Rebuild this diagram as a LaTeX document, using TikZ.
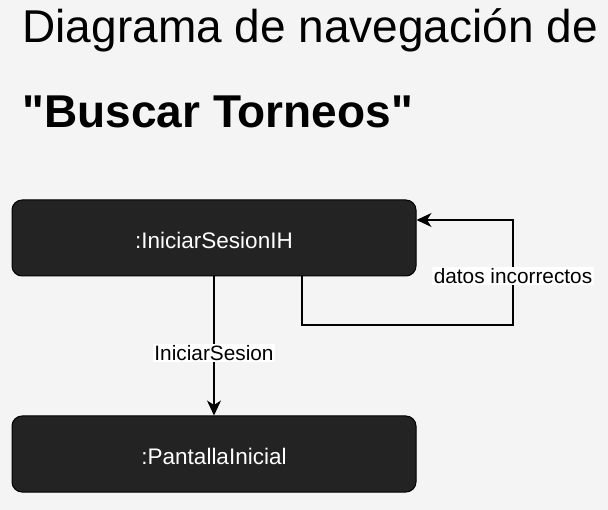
\documentclass[tikz,border=0pt]{standalone}
\usepackage{fontspec}
\setmainfont{Liberation Sans}
\newfontfamily\plainarial{Liberation Sans}
\usetikzlibrary{arrows.meta}
\definecolor{bgc}{HTML}{F4F4F4}
\definecolor{boxc}{HTML}{232323}
\newcommand{\lowered}[1]{\raisebox{-2pt}[\height][0pt]{#1}}
\begin{document}
\begin{tikzpicture}[x=1pt,y=-1pt,
  screen/.style={draw=black, line width=1pt, fill=boxc, rounded corners=10pt,
    minimum width=404pt, minimum height=76pt, inner sep=0pt,
    text=white, font=\fontsize{22.5}{27}\selectfont},
  conn/.style={draw=black, line width=1.3pt, -{Stealth[length=15pt,width=14pt,inset=4.5pt]}},
  lbl/.style={fill=white, inner sep=1.5pt, font=\fontsize{20.8}{24}\selectfont, text=black}
]
\fill[bgc] (0,0) rectangle (608,510);
\useasboundingbox (0,0) rectangle (608,510);
\node[anchor=base west, font=\fontsize{46}{55}\selectfont] (t1) at (19,43) {Diagrama de navegación de};
\node[anchor=base west, font=\plainarial\fontsize{46}{55}\selectfont\bfseries] (t2) at (19,128) {"Buscar Torneos"};
\node[screen] (ih) at (214,238) {\lowered{:IniciarSesionIH}};
\node[screen] (pi) at (214,454) {\lowered{:PantallaInicial}};
\draw[conn] (ih) -- node[lbl, pos=0.55] {IniciarSesion} (pi);
\coordinate (c1) at (302,325);
\coordinate (c2) at (513,325);
\coordinate (c3) at (513,220);
\draw[conn] (ih.south -| c1) -- (c1) -- (c2) -- node[lbl, pos=0.47] {datos incorrectos} (c3) -- (ih.east |- c3);
\end{tikzpicture}
\end{document}
